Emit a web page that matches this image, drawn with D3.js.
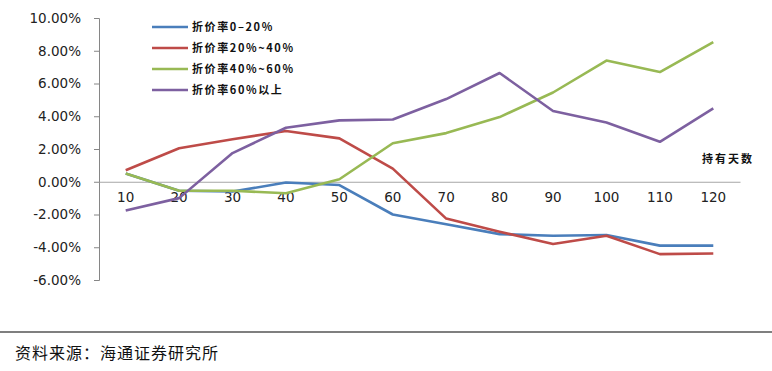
<!DOCTYPE html>
<html>
<head>
<meta charset="utf-8">
<script src="https://cdn.jsdelivr.net/npm/d3@7"></script>
<style>
  body { margin: 0; background: #fff; }
  svg { display: block; }
</style>
</head>
<body>
<div id="container"></div>
<script>
// holding days (categories)
var days = ["10", "20", "30", "40", "50", "60", "70", "80", "90", "100", "110", "120"];

// series values, in %
var rate0to20 = [0.5, -0.55, -0.6, -0.05, -0.2, -2.0, -2.6, -3.2, -3.3, -3.25, -3.9, -3.9];
var rate20to40 = [0.7, 2.05, 2.6, 3.1, 2.65, 0.8, -2.25, -3.05, -3.8, -3.3, -4.42, -4.38];
var rate40to60 = [0.5, -0.55, -0.55, -0.7, 0.15, 2.35, 2.97, 3.95, 5.45, 7.4, 6.7, 8.53];
var rate60up = [-1.75, -1.0, 1.75, 3.3, 3.75, 3.8, 5.05, 6.64, 4.32, 3.62, 2.44, 4.48];

var seriesNames = ["折价率0–20%", "折价率20%~40%", "折价率40%~60%", "折价率60%以上"];
var seriesColors = ["#4a7ebb", "#be4b48", "#98b954", "#7d60a0"];
var yTicks = [-6, -4, -2, 0, 2, 4, 6, 8, 10];

function load() {
	var width = 772, height = 371;

	// plot area
	var left = 99, right = 740, top = 18, bottom = 280;

	var svg = d3.select("#container")
		.append("svg")
		.attr("width", width)
		.attr("height", height);

	var xScale = d3.scaleBand()
		.domain(days)
		.range([left, right]);

	var yScale = d3.scaleLinear()
		.domain([-6, 10])
		.range([bottom, top]);

	// y axis
	var yAxis = svg.append("g")
		.attr("transform", "translate(" + left + ",0)")
		.call(d3.axisLeft(yScale)
			.tickValues(yTicks)
			.tickSize(5)
			.tickPadding(13)
			.tickFormat(function(d) { return d.toFixed(2) + "%"; }));
	yAxis.select(".domain").attr("stroke", "#868686");
	yAxis.selectAll(".tick line").attr("stroke", "#868686");
	yAxis.selectAll("text")
		.attr("fill", "#222")
		.style("font-family", "'DejaVu Sans', Verdana, sans-serif")
		.style("font-size", "13.5px");

	// zero line acting as x axis
	var xAxis = svg.append("g")
		.attr("transform", "translate(0," + yScale(0) + ")")
		.call(d3.axisBottom(xScale).tickSize(0).tickPadding(11));
	xAxis.select(".domain").attr("stroke", "#a6a6a6");
	xAxis.selectAll("text")
		.attr("fill", "#222")
		.style("font-family", "'DejaVu Sans', Verdana, sans-serif")
		.style("font-size", "13.5px");

	// axis title
	svg.append("text")
		.attr("x", 702)
		.attr("y", 163)
		.style("font-family", "'Noto Sans CJK SC', sans-serif")
		.style("font-size", "11px")
		.style("font-weight", "bold")
		.style("letter-spacing", "2px")
		.attr("fill", "#111")
		.text("持有天数");

	// lines
	var line = d3.line()
		.x(function(d, i) { return xScale(days[i]) + xScale.bandwidth() / 2; })
		.y(function(d) { return yScale(d); });

	var allSeries = [rate0to20, rate20to40, rate40to60, rate60up];
	allSeries.forEach(function(s, i) {
		svg.append("path")
			.datum(s)
			.attr("fill", "none")
			.attr("stroke", seriesColors[i])
			.attr("stroke-width", 2.6)
			.attr("stroke-linejoin", "round")
			.attr("d", line);
	});

	// legend
	var legend = svg.append("g");
	seriesNames.forEach(function(name, i) {
		var y = 27 + i * 21;
		legend.append("line")
			.attr("x1", 152).attr("x2", 188)
			.attr("y1", y).attr("y2", y)
			.attr("stroke", seriesColors[i])
			.attr("stroke-width", 2.6);
		legend.append("text")
			.attr("x", 192)
			.attr("y", y + 4)
			.style("font-family", "'Noto Sans CJK SC', sans-serif")
			.style("font-size", "11px")
			.style("font-weight", "bold")
			.style("letter-spacing", "1.6px")
			.attr("fill", "#111")
			.text(name);
	});

	// source line
	svg.append("line")
		.attr("x1", 0).attr("x2", width)
		.attr("y1", 332).attr("y2", 332)
		.attr("stroke", "#000")
		.attr("stroke-width", 1.2);
	svg.append("text")
		.attr("x", 15)
		.attr("y", 359)
		.style("font-family", "'Noto Sans CJK SC', sans-serif")
		.style("font-size", "16px")
		.style("letter-spacing", "1px")
		.attr("fill", "#111")
		.text("资料来源：海通证券研究所");
}
load();
</script>
</body>
</html>
